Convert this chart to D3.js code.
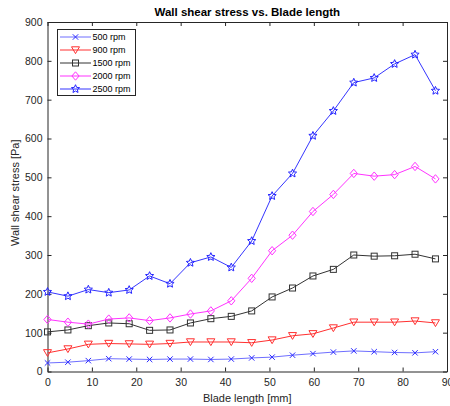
<!DOCTYPE html>
<html>
<head>
<meta charset="utf-8">
<script src="https://cdn.jsdelivr.net/npm/d3@7"></script>
<style>
  html, body { margin: 0; padding: 0; background: #fff; }
  svg { display: block; font-family: "Liberation Sans", Arial, Helvetica, sans-serif; }
</style>
</head>
<body>
<svg id="chart" width="450" height="406"></svg>
<script>
// Blade position along the span [mm]
const bladeLength = [0, 4.6, 9.2, 13.8, 18.4, 23, 27.6, 32.2, 36.8, 41.4,
                     46, 50.6, 55.2, 59.8, 64.4, 69, 73.6, 78.2, 82.8, 87.4];

// Wall shear stress [Pa] for each rotor speed
const rpm500  = [22, 24, 28, 33, 32, 31, 32, 32, 31, 32, 35, 37, 42, 46, 50, 53, 51, 49, 48, 51];
const rpm900  = [48, 58, 70, 72, 71, 70, 72, 76, 76, 76, 74, 81, 92, 97, 112, 127, 127, 127, 130, 125];
const rpm1500 = [102, 107, 118, 125, 123, 106, 107, 125, 136, 142, 156, 192, 215, 246, 263, 300, 297, 298, 302, 290];
const rpm2000 = [134, 127, 122, 135, 138, 131, 138, 148, 156, 182, 240, 311, 351, 412, 456, 510, 503, 507, 528, 496];
const rpm2500 = [205, 194, 211, 203, 210, 246, 226, 280, 295, 268, 336, 452, 510, 607, 671, 744, 756, 792, 816, 723];

const seriesNames = ["500 rpm", "900 rpm", "1500 rpm", "2000 rpm", "2500 rpm"];
const xTicks = [0, 10, 20, 30, 40, 50, 60, 70, 80, 90];
const yTicks = [0, 100, 200, 300, 400, 500, 600, 700, 800, 900];

const series = [
  { name: seriesNames[0], values: rpm500,  line: "#6f6fff", mark: "#2b2bff", symbol: "cross" },
  { name: seriesNames[1], values: rpm900,  line: "#ff3030", mark: "#ff3030", symbol: "triangle" },
  { name: seriesNames[2], values: rpm1500, line: "#333333", mark: "#333333", symbol: "square" },
  { name: seriesNames[3], values: rpm2000, line: "#ff33ff", mark: "#ff33ff", symbol: "diamond" },
  { name: seriesNames[4], values: rpm2500, line: "#3535ff", mark: "#2424ff", symbol: "star" }
];

const svg = d3.select("#chart");
const plotL = 47.5, plotR = 447, plotT = 22, plotB = 371.5;
const axisColor = "#262626";

const x = d3.scaleLinear().domain([0, 90]).range([plotL, plotR]);
const y = d3.scaleLinear().domain([0, 900]).range([plotB, plotT]);

// Axes with inward ticks and a full box
const xAxis = d3.axisBottom(x).tickValues(xTicks).tickSizeInner(-4).tickSizeOuter(0).tickPadding(7);
const yAxis = d3.axisLeft(y).tickValues(yTicks).tickSizeInner(-4).tickSizeOuter(0).tickPadding(5);
const xTop = d3.axisTop(x).tickValues(xTicks).tickSizeInner(-4).tickSizeOuter(0).tickFormat("");
const yRight = d3.axisRight(y).tickValues(yTicks).tickSizeInner(-4).tickSizeOuter(0).tickFormat("");

function styleAxis(g) {
  g.selectAll("path.domain").attr("stroke", axisColor).attr("stroke-width", 1);
  g.selectAll(".tick line").attr("stroke", axisColor);
  g.selectAll(".tick text").attr("fill", axisColor).attr("font-size", "10.5px")
    .attr("font-family", "\"Liberation Sans\", Arial, sans-serif");
}

svg.append("g").attr("transform", `translate(0,${plotB})`).call(xAxis).call(styleAxis);
svg.append("g").attr("transform", `translate(${plotL},0)`).call(yAxis).call(styleAxis);
svg.append("g").attr("transform", `translate(0,${plotT})`).call(xTop).call(styleAxis);
svg.append("g").attr("transform", `translate(${plotR},0)`).call(yRight).call(styleAxis);

// Marker shapes
function drawMarker(g, sym, color) {
  const s = 3.2;
  let el;
  if (sym === "cross") {
    el = g.append("path").attr("d", `M${-s*0.85},${-s*0.85}L${s*0.85},${s*0.85}M${-s*0.85},${s*0.85}L${s*0.85},${-s*0.85}`);
  } else if (sym === "triangle") {
    el = g.append("path").attr("d", `M${-4},${-3.2}L${4},${-3.2}L0,${3.6}Z`);
  } else if (sym === "square") {
    el = g.append("rect").attr("x", -3).attr("y", -3).attr("width", 6).attr("height", 6);
  } else if (sym === "diamond") {
    el = g.append("path").attr("d", `M0,-4.2L3.6,0L0,4.2L-3.6,0Z`);
  } else {
    const pts = [];
    for (let i = 0; i < 10; i++) {
      const r = i % 2 === 0 ? 4.3 : 2;
      const a = -Math.PI / 2 + i * Math.PI / 5;
      pts.push([r * Math.cos(a), r * Math.sin(a)]);
    }
    el = g.append("path").attr("d", "M" + pts.map(p => p.join(",")).join("L") + "Z");
  }
  el.attr("fill", "none").attr("stroke", color).attr("stroke-width", 1);
}

const line = d3.line().x((d, i) => x(bladeLength[i])).y(d => y(d));

series.forEach(s => {
  svg.append("path").datum(s.values)
    .attr("d", line).attr("fill", "none").attr("stroke", s.line).attr("stroke-width", 1);
  s.values.forEach((v, i) => {
    const g = svg.append("g").attr("transform", `translate(${x(bladeLength[i])},${y(v)})`);
    drawMarker(g, s.symbol, s.mark);
  });
});

// Title and axis labels
svg.append("text").attr("x", (plotL + plotR) / 2).attr("y", 16)
  .attr("text-anchor", "middle").attr("font-size", "11.5px").attr("font-weight", "bold")
  .attr("fill", "#000").text("Wall shear stress vs. Blade length");
svg.append("text").attr("x", (plotL + plotR) / 2).attr("y", 402)
  .attr("text-anchor", "middle").attr("font-size", "11px").attr("fill", axisColor)
  .text("Blade length [mm]");
svg.append("text").attr("transform", `translate(19,${(plotT + plotB) / 2 - 4}) rotate(-90)`)
  .attr("text-anchor", "middle").attr("font-size", "11px").attr("fill", axisColor)
  .text("Wall shear stress [Pa]");

// Legend
const lg = svg.append("g");
lg.append("rect").attr("x", 57.5).attr("y", 29.5).attr("width", 78).attr("height", 66)
  .attr("fill", "#fff").attr("stroke", axisColor).attr("stroke-width", 1);
series.forEach((s, i) => {
  const yy = 37 + i * 13;
  lg.append("line").attr("x1", 60).attr("x2", 91).attr("y1", yy).attr("y2", yy)
    .attr("stroke", s.line).attr("stroke-width", 1);
  const g = lg.append("g").attr("transform", `translate(75.5,${yy})`);
  drawMarker(g, s.symbol, s.mark);
  lg.append("text").attr("x", 92.5).attr("y", yy + 3.2).attr("font-size", "9px")
    .attr("fill", "#000").text(s.name);
});
</script>
</body>
</html>
